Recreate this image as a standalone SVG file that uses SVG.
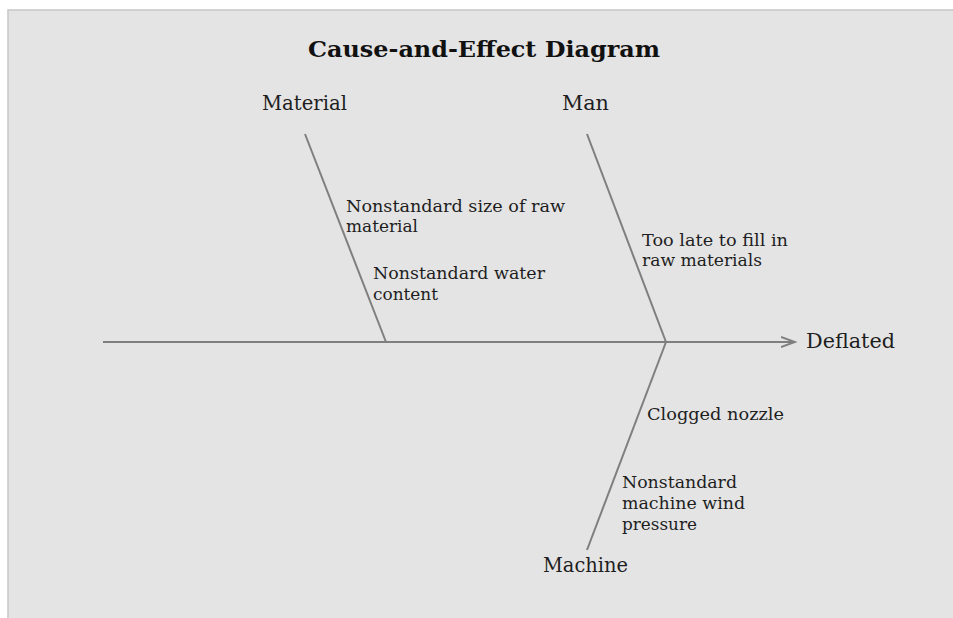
<svg xmlns="http://www.w3.org/2000/svg" width="953" height="618" viewBox="0 0 953 618">
  <defs>
    <style>
      .t { font-family: "DejaVu Serif", "Liberation Serif", serif; fill: #1e1e1e; }
      .title { font-size: 22px; font-weight: bold; fill: #111; }
      .cat { font-size: 20px; }
      .cause { font-size: 16px; }
      .bone { stroke: #7f7f7f; stroke-width: 2; fill: none; }
    </style>
    <marker id="arrow" markerWidth="16" markerHeight="12" refX="14" refY="6" orient="auto" markerUnits="userSpaceOnUse">
      <path d="M0,1 L14,6 L0,11" fill="none" stroke="#7f7f7f" stroke-width="2"/>
    </marker>
  </defs>
  <rect x="0" y="0" width="953" height="618" fill="#ffffff"/>
  <rect x="8" y="10" width="950" height="615" fill="#e4e4e4" stroke="#c6c6c6" stroke-width="1.5"/>

  <text class="t title" x="308" y="57" textLength="352" lengthAdjust="spacingAndGlyphs">Cause-and-Effect Diagram</text>

  <g id="connectors">
    <line class="bone" x1="103" y1="342" x2="795" y2="342" marker-end="url(#arrow)"/>
    <line class="bone" x1="305" y1="134" x2="386" y2="342"/>
    <line class="bone" x1="587" y1="134" x2="666" y2="342"/>
    <line class="bone" x1="666" y1="342" x2="587" y2="550"/>
  </g>

  <g id="effect">
    <text class="t cat" x="806" y="348" textLength="89" lengthAdjust="spacingAndGlyphs">Deflated</text>
  </g>

  <g id="material">
    <text class="t cat" x="262" y="110" textLength="85" lengthAdjust="spacingAndGlyphs">Material</text>
    <text class="t cause" x="346" y="212" textLength="219" lengthAdjust="spacingAndGlyphs">Nonstandard size of raw</text>
    <text class="t cause" x="346" y="232" textLength="72" lengthAdjust="spacingAndGlyphs">material</text>
    <text class="t cause" x="373" y="279" textLength="172" lengthAdjust="spacingAndGlyphs">Nonstandard water</text>
    <text class="t cause" x="373" y="300" textLength="65" lengthAdjust="spacingAndGlyphs">content</text>
  </g>

  <g id="man">
    <text class="t cat" x="562" y="110" textLength="47" lengthAdjust="spacingAndGlyphs">Man</text>
    <text class="t cause" x="642" y="246" textLength="146" lengthAdjust="spacingAndGlyphs">Too late to fill in</text>
    <text class="t cause" x="642" y="266" textLength="120" lengthAdjust="spacingAndGlyphs">raw materials</text>
  </g>

  <g id="machine">
    <text class="t cat" x="543" y="572" textLength="85" lengthAdjust="spacingAndGlyphs">Machine</text>
    <text class="t cause" x="647" y="420" textLength="137" lengthAdjust="spacingAndGlyphs">Clogged nozzle</text>
    <text class="t cause" x="622" y="488" textLength="115" lengthAdjust="spacingAndGlyphs">Nonstandard</text>
    <text class="t cause" x="622" y="509" textLength="123" lengthAdjust="spacingAndGlyphs">machine wind</text>
    <text class="t cause" x="622" y="530" textLength="75" lengthAdjust="spacingAndGlyphs">pressure</text>
  </g>
</svg>
